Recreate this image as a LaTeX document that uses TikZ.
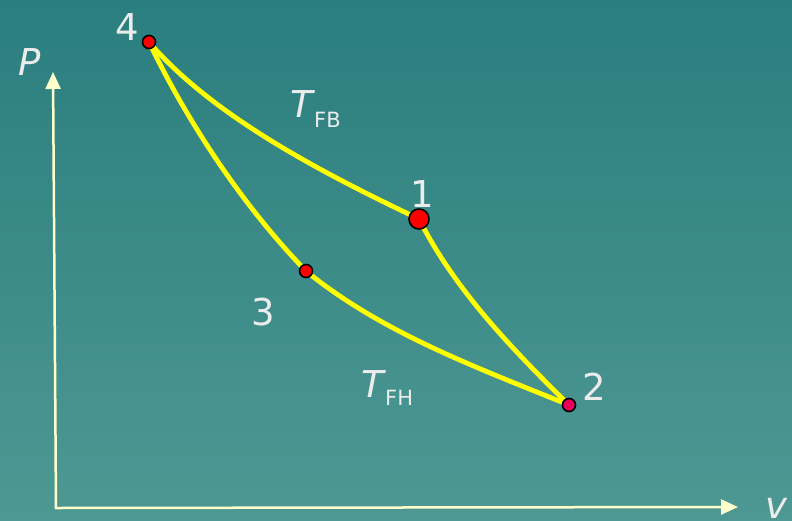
\documentclass[tikz,border=0pt]{standalone}
\usepackage{fontspec}
\setmainfont{DejaVu Sans}[ItalicFont={DejaVu Sans Oblique}]
\usetikzlibrary{arrows.meta, backgrounds}

\begin{document}
\begin{tikzpicture}[
    x=1pt, y=-1pt,
    >={Triangle[length=17pt, width=15pt]}, % Pfeilspitzen der Achsen
    % --- Farben ---
    bgTop/.style={top color={rgb,255:red,42;green,126;blue,126}},
    bgBot/.style={bottom color={rgb,255:red,78;green,152;blue,147}},
    % --- Punkte ---
    point/.style={circle, draw=black, line width=1.6pt, fill=red, inner sep=0pt, minimum size=13pt},
    bigPoint/.style={point, minimum size=20pt},
    pinkPoint/.style={point, fill={rgb,255:red,236;green,0;blue,90}},
    % --- Linien ---
    curve/.style={draw={rgb,255:red,255;green,255;blue,0}, line width=4.8pt},
    axis/.style={->, draw={rgb,255:red,255;green,255;blue,204}, line width=2.5pt},
    % --- Beschriftungen ---
    label/.style={text={rgb,255:red,236;green,236;blue,236}, font=\fontsize{37}{44}\selectfont, inner sep=0pt, anchor=base},
    axisLabel/.style={label, font=\fontsize{37}{44}\selectfont\itshape}
]

    % ===========================
    % 1. ZUSTANDSPUNKTE
    % ===========================
    \node[point]     (p4) at (149, 42)  {};
    \node[bigPoint]  (p1) at (419, 219) {};
    \node[point]     (p3) at (306, 271) {};
    \node[pinkPoint] (p2) at (569, 405) {};

    \node[label] (n4) at (127, 40)  {4};
    \node[label] (n1) at (422, 207) {1};
    \node[label] (n3) at (263, 325) {3};
    \node[label] (n2) at (594, 400) {2};

    % Isothermen
    \node[label, anchor=base west] (tFB) at (290, 117) {\textit{T}\kern-1pt\raisebox{-10pt}{\fontsize{21}{24}\selectfont FB}};
    \node[label, anchor=base west] (tFH) at (361, 397) {\textit{T}\kern-1pt\raisebox{-8pt}{\fontsize{21}{24}\selectfont FH}};

    % ===========================
    % 2. ACHSEN
    % ===========================
    \coordinate (O)    at (56, 508);
    \coordinate (yTip) at (53, 72);
    \coordinate (xTip) at (738, 507);
    \draw[axis] (O) -- (yTip);
    \draw[axis] ([xshift=-1.2pt]O) -- (xTip);

    \node[axisLabel] (P) at (30, 75)  {P};
    \node[axisLabel] (v) at (776, 518) {v};

    % ===========================
    % 3. HINTERGRUND UND KURVEN
    % ===========================
    \begin{scope}[on background layer]
        \shade[bgTop, bgBot] (0, 0) rectangle (792, 520);

        \draw[curve] (p4.center) .. controls (214, 118) and (329, 176) .. (p1.center);
        \draw[curve] (p1.center) .. controls (455, 290) and (512, 349) .. (p2.center);
        \draw[curve] (p4.center) .. controls (188, 123) and (243, 206) .. (p3.center);
        \draw[curve] (p3.center) .. controls (382, 333) and (478, 368) .. (p2.center);
    \end{scope}

\end{tikzpicture}
\end{document}
